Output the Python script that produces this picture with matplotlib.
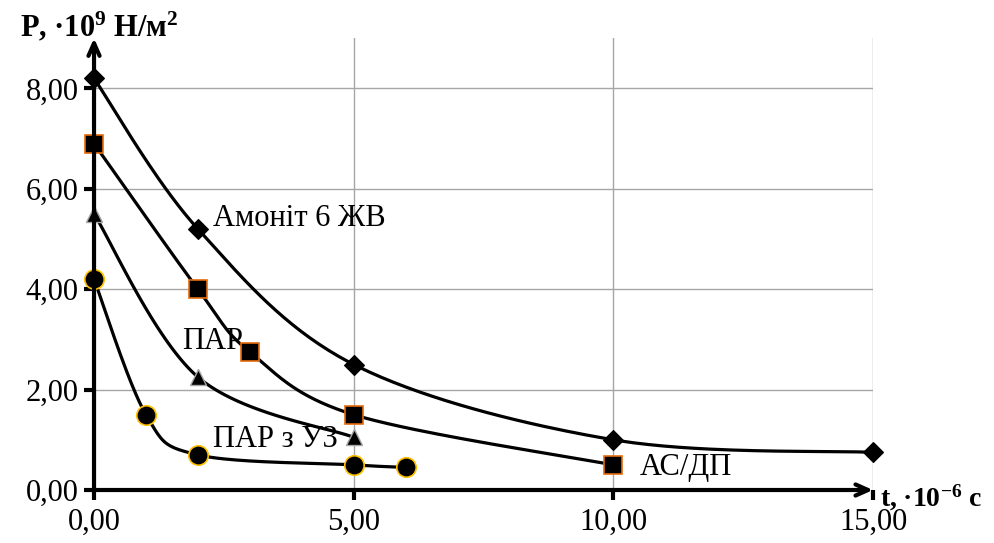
import numpy as np
import matplotlib
matplotlib.use("Agg")
import matplotlib.pyplot as plt

plt.rcParams['font.family'] = ['Liberation Serif', 'DejaVu Serif']
plt.rcParams['mathtext.fontset'] = 'custom'
plt.rcParams['mathtext.rm'] = 'Liberation Serif'
plt.rcParams['mathtext.bf'] = 'Liberation Serif:bold'
plt.rcParams['mathtext.it'] = 'Liberation Serif:italic'

# Data
amonit_x = [0, 2, 5, 10, 15]
amonit_y = [8.2, 5.2, 2.5, 1.0, 0.75]
asdp_x = [0, 2, 3, 5, 10]
asdp_y = [6.9, 4.0, 2.75, 1.5, 0.5]
par_x = [0, 2, 5]
par_y = [5.5, 2.25, 1.05]
paruz_x = [0, 1, 2, 5, 6]
paruz_y = [4.2, 1.5, 0.7, 0.5, 0.45]

x_ticks = [0, 5, 10, 15]
x_tick_labels = ["0,00", "5,00", "10,00", "15,00"]
y_ticks = [0, 2, 4, 6, 8]
y_tick_labels = ["0,00", "2,00", "4,00", "6,00", "8,00"]

fig = plt.figure(figsize=(9.95, 5.43), dpi=100)
ax = fig.add_axes([0.0945, 0.0976, 0.783, 0.832])
ax.set_xlim(0, 15)
ax.set_ylim(0, 9)

SX, SY = 51.9, 50.25  # approx px per unit, used for isotropic smoothing


def smooth(xs, ys, n=40):
    P = np.column_stack([np.array(xs, float) * SX, np.array(ys, float) * SY])
    m = len(P)
    out = []
    for i in range(m - 1):
        p0 = P[i - 1] if i > 0 else P[i]
        p1 = P[i]
        p2 = P[i + 1]
        p3 = P[i + 2] if i + 2 < m else P[i + 1]
        c1 = p1 + (p2 - p0) / 6.0
        c2 = p2 - (p3 - p1) / 6.0
        t = np.linspace(0, 1, n)[:, None]
        seg = ((1 - t) ** 3) * p1 + 3 * ((1 - t) ** 2) * t * c1 + 3 * (1 - t) * t ** 2 * c2 + t ** 3 * p2
        out.append(seg if i == 0 else seg[1:])
    c = np.vstack(out)
    return c[:, 0] / SX, c[:, 1] / SY


# grid
for xv in [5, 10, 15]:
    ax.axvline(xv, color='#A6A6A6', lw=1.0, zorder=1)
for yv in [2, 4, 6, 8]:
    ax.axhline(yv, color='#A6A6A6', lw=1.0, zorder=1)

series = [
    (amonit_x, amonit_y, dict(marker='D', markersize=10, markerfacecolor='black', markeredgecolor='black', markeredgewidth=0.8)),
    (asdp_x, asdp_y, dict(marker='s', markersize=13, markerfacecolor='black', markeredgecolor='#E46C0A', markeredgewidth=1.2)),
    (par_x, par_y, dict(marker='^', markersize=12, markerfacecolor='black', markeredgecolor='#A6A6A6', markeredgewidth=1.0)),
    (paruz_x, paruz_y, dict(marker='o', markersize=14, markerfacecolor='black', markeredgecolor='#FFC000', markeredgewidth=1.2)),
]
for xs, ys, mk in series:
    sx, sy = smooth(xs, ys)
    ax.plot(sx, sy, color='black', lw=2.3, zorder=3, clip_on=False, solid_capstyle='round')
    ax.plot(xs, ys, linestyle='none', zorder=4, clip_on=False, **mk)

for s in ax.spines.values():
    s.set_visible(False)

# axes arrows
ax.annotate('', xy=(0, 1.0), xytext=(0, 0), xycoords='axes fraction',
            arrowprops=dict(arrowstyle='->,head_length=0.9,head_width=0.4', lw=3, color='black',
                            shrinkA=0, shrinkB=0), zorder=5)
ax.annotate('', xy=(1.0, 0), xytext=(0, 0), xycoords='axes fraction',
            arrowprops=dict(arrowstyle='->,head_length=0.9,head_width=0.4', lw=3, color='black',
                            shrinkA=0, shrinkB=0), zorder=5)

ax.set_xticks(x_ticks)
ax.set_xticklabels(x_tick_labels)
ax.set_yticks(y_ticks)
ax.set_yticklabels(y_tick_labels)
ax.tick_params(axis='both', direction='out', length=7, width=3, color='black', labelsize=22)
ax.tick_params(axis='x', pad=6)
ax.tick_params(axis='y', pad=4)

fs = 22
ax.text(2.3, 5.4, 'Амоніт 6 ЖВ', fontsize=fs, ha='left', va='center')
ax.text(1.7, 2.95, 'ПАР', fontsize=fs, ha='left', va='center')
ax.text(2.3, 1.0, 'ПАР з УЗ', fontsize=fs, ha='left', va='center')
ax.text(10.5, 0.45, 'АС/ДП', fontsize=fs, ha='left', va='center')

fig.text(20 / 995, 1 - 27 / 543, r'$\mathbf{P{,}\ ·10^{9}\ Н/м^{2}}$', fontsize=22,
         ha='left', va='center')
fig.text(880 / 995, 1 - 498 / 543, r'$\mathbf{t{,}\ ·10^{-6}\ с}$', fontsize=20,
         ha='left', va='center')

fig.savefig('out.png', dpi=100)
